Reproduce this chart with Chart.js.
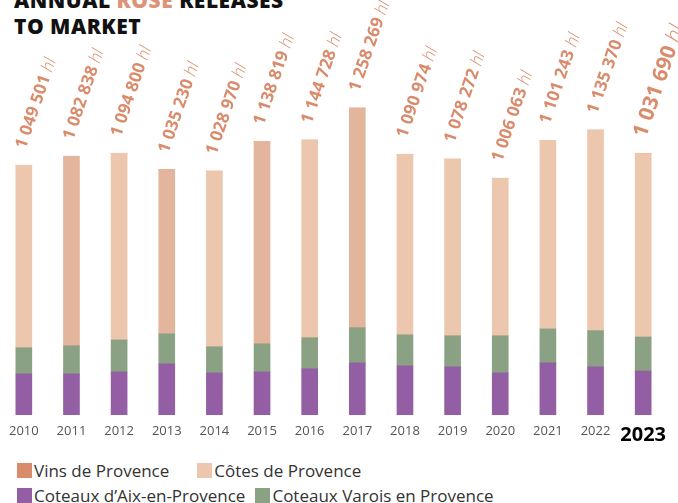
<!DOCTYPE html>
<html>
<head>
<meta charset="utf-8">
<script src="https://cdn.jsdelivr.net/npm/chart.js@4"></script>
<style>
  body { margin: 0; background: #fff; font-family: "Open Sans", sans-serif; }
  #wrap { position: relative; width: 678px; height: 503px; overflow: hidden; }
  #title { position: absolute; left: 14px; top: -13px; font: 800 21px/26px "Open Sans", sans-serif; color: #111; letter-spacing: 0.5px; }
  #title span { color: #dc9478; }
  #chartBox { position: absolute; left: 0; top: 0; width: 678px; height: 447px; }
  #legend { position: absolute; left: 17px; top: 458px; font: 17px "Open Sans", sans-serif; color: #333; }
  .row { display: flex; align-items: center; height: 25px; }
  .item { display: flex; align-items: center; margin-right: 10px; }
  .box { width: 15px; height: 15px; margin-right: 2px; }
</style>
</head>
<body>
<div id="wrap">
  <div id="title">ANNUAL <span>ROSÉ</span> RELEASES<br>TO MARKET</div>
  <div id="chartBox"><canvas id="rosesChart"></canvas></div>
  <div id="legend">
    <div class="row">
      <div class="item"><div class="box" style="background:#d98b6c"></div>Vins de Provence</div>
      <div class="item" style="margin-left:18px"><div class="box" style="background:#ecc7ad"></div>Côtes de Provence</div>
    </div>
    <div class="row">
      <div class="item"><div class="box" style="background:#935ea3"></div>Coteaux d’Aix-en-Provence</div>
      <div class="item"><div class="box" style="background:#8ba183"></div>Coteaux Varois en Provence</div>
    </div>
  </div>
</div>
<script>
const years = ['2010', '2011', '2012', '2013', '2014', '2015', '2016', '2017', '2018', '2019', '2020', '2021', '2022', '2023'];
const totalLabels = ['1 049 501', '1 082 838', '1 094 800', '1 035 230', '1 028 970', '1 138 819', '1 144 728',
    '1 258 269', '1 090 974', '1 078 272', '1 006 063', '1 101 243', '1 135 370', '1 031 690'];

// segment volumes in hl
const aixValues = [168000, 168000, 176000, 209000, 172000, 176000, 189000, 213000, 201000, 197000, 172000, 213000, 197000, 180000];
const varoisValues = [107000, 115000, 131000, 123000, 107000, 115000, 127000, 144000, 127000, 127000, 152000, 139000, 148000, 139000];
const cotesValues = [746000, 775000, 763000, 672000, 718000, 828000, 808000, 898000, 738000, 722000, 644000, 771000, 820000, 750000];
const vinsValues = years.map(() => 0);

const cotesColors = years.map((y, i) => (i % 2 === 1 && i < 8) ? '#e3b59d' : '#ecc7ad');

const labelPlugin = {
    id: 'totalLabels',
    afterDatasetsDraw(chart) {
        const ctx = chart.ctx;
        const meta = chart.getDatasetMeta(2);
        meta.data.forEach((bar, i) => {
            const last = i === years.length - 1;
            const size = last ? 21 : 17;
            ctx.save();
            ctx.translate(bar.x - 3, bar.y - 17);
            ctx.rotate(-71 * Math.PI / 180);
            ctx.fillStyle = '#d98b6c';
            ctx.textAlign = 'left';
            ctx.textBaseline = 'middle';
            ctx.font = 'bold ' + size + 'px "Open Sans"';
            ctx.fillText(totalLabels[i], 0, 0);
            const w = ctx.measureText(totalLabels[i] + ' ').width;
            ctx.font = 'italic 300 ' + size + 'px "Open Sans"';
            ctx.fillText('hl', w, 0);
            ctx.restore();
        });
    }
};

const ctx = document.getElementById('rosesChart').getContext('2d');
new Chart(ctx, {
    type: 'bar',
    data: {
        labels: years,
        datasets: [
            { label: 'Coteaux d’Aix-en-Provence', data: aixValues, backgroundColor: '#935ea3' },
            { label: 'Coteaux Varois en Provence', data: varoisValues, backgroundColor: '#8ba183' },
            { label: 'Côtes de Provence', data: cotesValues, backgroundColor: cotesColors },
            { label: 'Vins de Provence', data: vinsValues, backgroundColor: '#d98b6c' }
        ]
    },
    options: {
        responsive: true,
        maintainAspectRatio: false,
        animation: false,
        layout: { padding: { top: 60, left: 0, right: 11, bottom: 0 } },
        datasets: { bar: { barThickness: 16, borderWidth: 0 } },
        scales: {
            x: {
                stacked: true,
                grid: { display: false },
                border: { display: false },
                ticks: {
                    padding: 0,
                    maxRotation: 0,
                    minRotation: 0,
                    autoSkip: false,
                    color: ctx => ctx.index === 13 ? '#000' : '#555',
                    font: ctx => ctx.index === 13
                        ? { family: '"Open Sans"', size: 20, weight: 'bold' }
                        : { family: '"Open Sans"', size: 13 }
                }
            },
            y: {
                stacked: true,
                display: false,
                min: 0,
                max: 1451400
            }
        },
        plugins: {
            legend: { display: false },
            tooltip: { enabled: false }
        }
    },
    plugins: [labelPlugin]
});
</script>
</body>
</html>
